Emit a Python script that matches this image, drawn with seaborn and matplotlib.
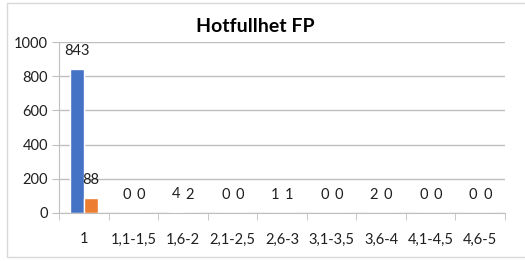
import pandas as pd
import seaborn as sns
import matplotlib.pyplot as plt
from matplotlib.patches import Rectangle
from matplotlib.ticker import FixedLocator

kategorier = ['1', '1,1-1,5', '1,6-2', '2,1-2,5', '2,6-3', '3,1-3,5', '3,6-4', '4,1-4,5', '4,6-5']
serie_a = [843, 0, 4, 0, 1, 0, 2, 0, 0]
serie_b = [88, 0, 2, 0, 1, 0, 0, 0, 0]

df = pd.DataFrame({
    'Kategori': kategorier * 2,
    'Antall': serie_a + serie_b,
    'Serie': ['A'] * len(kategorier) + ['B'] * len(kategorier),
})

sns.set_style('white')
plt.rcParams['font.family'] = ['Lato', 'DejaVu Sans']

fig = plt.figure(figsize=(5.25, 2.61), dpi=100)
ax = fig.add_axes([59 / 525, 1 - 213 / 261, (505 - 59) / 525, (213 - 42) / 261])

sns.barplot(data=df, x='Kategori', y='Antall', hue='Serie', order=kategorier,
            palette=['#4472C4', '#ED7D31'], width=0.57, legend=False, ax=ax,
            saturation=1)

txt_c = '#1F1F1F'
fs = 10.5
for c in ax.containers:
    ax.bar_label(c, padding=8, fontsize=fs, color=txt_c)

grid_c = '#BFBFBF'
ax.set_ylim(0, 1000)
ax.set_xlim(-0.5, len(kategorier) - 0.5)
ax.set_yticks(range(0, 1001, 200))
ax.yaxis.grid(True, color=grid_c, linewidth=1)
ax.set_axisbelow(True)
ax.tick_params(axis='y', length=5, color=grid_c, labelsize=fs, labelcolor=txt_c, left=True, pad=3)
ax.tick_params(axis='x', which='major', length=0, labelsize=fs, labelcolor=txt_c, pad=14)
ax.xaxis.set_minor_locator(FixedLocator([i - 0.5 for i in range(len(kategorier) + 1)]))
ax.tick_params(axis='x', which='minor', length=5, color=grid_c, bottom=True)

for s in ['top', 'right']:
    ax.spines[s].set_visible(False)
ax.spines['left'].set_color(grid_c)
ax.spines['bottom'].set_color(grid_c)

ax.set_xlabel('')
ax.set_ylabel('')
fig.text(255 / 525, 1 - 26 / 261, 'Hotfullhet FP', ha='center', va='center',
         fontsize=14, fontweight='bold', color='#000000')

fig.patches.append(Rectangle((7 / 525, 4 / 261), 1.0, 254 / 261, transform=fig.transFigure,
                             fill=False, edgecolor='#D9D9D9', linewidth=1))

fig.savefig('out.png', dpi=100)
